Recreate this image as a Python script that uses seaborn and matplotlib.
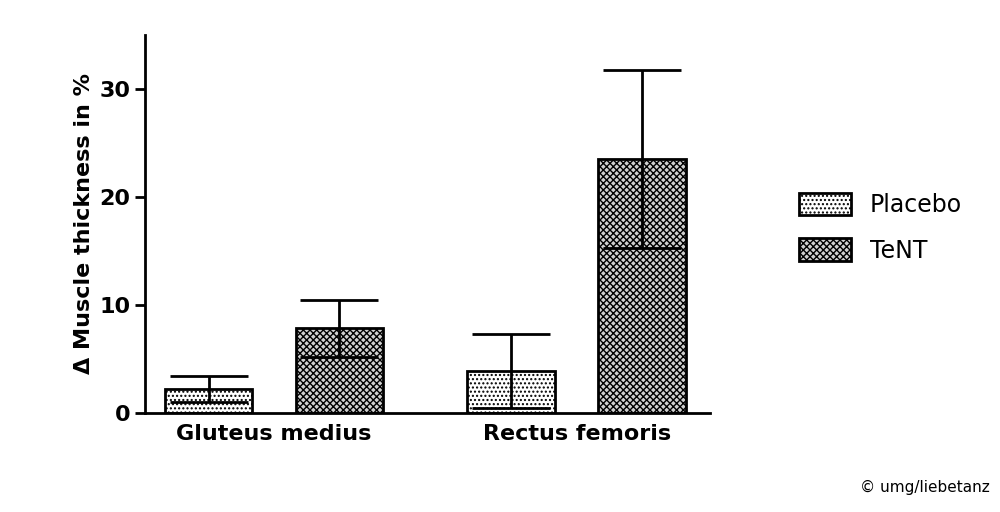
import seaborn as sns
import matplotlib.pyplot as plt
import pandas as pd

muscles = ['Gluteus medius', 'Rectus femoris']
groups = ['Placebo', 'TeNT']
placebo_mean = [2.2, 3.9]
placebo_err = [1.2, 3.4]
tent_mean = [7.85, 23.5]
tent_err = [2.65, 8.2]

df = pd.DataFrame({
    'muscle': muscles * 2,
    'group': ['Placebo'] * 2 + ['TeNT'] * 2,
    'mean': placebo_mean + tent_mean,
    'err': placebo_err + tent_err,
})

sns.set_style('ticks')
plt.rcParams['font.family'] = ['DejaVu Sans']
plt.rcParams['hatch.linewidth'] = 1.0
plt.rcParams['text.color'] = 'black'
plt.rcParams['axes.labelcolor'] = 'black'
plt.rcParams['xtick.color'] = 'black'
plt.rcParams['ytick.color'] = 'black'
fig = plt.figure(figsize=(10, 5.12), dpi=100)
ax = fig.add_axes([0.145, 0.193, 0.565, 0.739])

sns.barplot(data=df, x='muscle', y='mean', hue='group', hue_order=groups,
            order=muscles, errorbar=None, width=0.865, gap=0.33,
            palette=['white', '#d0d0d0'], edgecolor='black', linewidth=2, ax=ax)

hatches = {'Placebo': '....', 'TeNT': 'xxxxx'}
for container, g in zip(ax.containers, groups):
    sub = df[df.group == g]
    for bar, (_, row) in zip(container, sub.iterrows()):
        bar.set_hatch(hatches[g])
        cx = bar.get_x() + bar.get_width() / 2
        ax.errorbar(cx, row['mean'], yerr=row['err'], color='black',
                    capsize=28, elinewidth=2, capthick=2, zorder=5)

ax.set_xlim(-0.426, 1.44)
ax.set_ylim(0, 35)
ax.set_yticks([0, 10, 20, 30])
ax.set_xlabel('')
ax.set_ylabel('Δ Muscle thickness in %', fontsize=16, fontweight='bold')
ax.tick_params(axis='y', labelsize=16, width=2, length=7)
ax.tick_params(axis='x', labelsize=16, length=0, pad=8)
for lab in ax.get_xticklabels() + ax.get_yticklabels():
    lab.set_fontweight('bold')
sns.despine(ax=ax)
ax.spines['left'].set_linewidth(2)
ax.spines['bottom'].set_linewidth(2)
ax.spines['left'].set_color('black')
ax.spines['bottom'].set_color('black')

handles, labels = ax.get_legend_handles_labels()
ax.legend(handles, labels, loc='center left', bbox_to_anchor=(1.12, 0.49),
          frameon=False, fontsize=17, handlelength=2.2, handleheight=1.1,
          labelspacing=0.9)
for h, g in zip(ax.get_legend().legend_handles, groups):
    h.set_hatch(hatches[g])
    h.set_edgecolor('black')

fig.text(0.99, 0.04, '© umg/liebetanz', ha='right', fontsize=11)
fig.savefig('out.png', dpi=100)
